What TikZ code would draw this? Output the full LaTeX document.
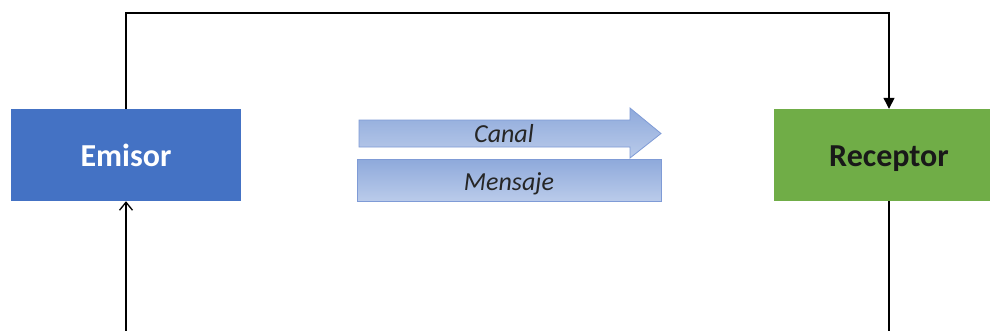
\documentclass[tikz,border=0pt]{standalone}
\usepackage{fontspec}
\setmainfont{Carlito}
\usetikzlibrary{arrows.meta}
\definecolor{emblue}{HTML}{4472C4}
\definecolor{recgreen}{HTML}{70AD47}
\definecolor{chtop}{HTML}{8EA9DB}
\definecolor{chbot}{HTML}{BACBEA}
\definecolor{chline}{HTML}{7F9BD6}
\tikzset{
  party/.style={draw=none, minimum width=230pt, minimum height=92pt, inner sep=0pt,
    text height=22pt, text depth=0pt,
    font=\fontsize{32}{36}\selectfont\bfseries},
  channel/.style={draw=chline, line width=0.8pt, top color=chtop, bottom color=chbot},
  flow/.style={line width=1.3pt, black},
  lbl/.style={font=\fontsize{26}{30}\selectfont\itshape, text=black!85, inner sep=0pt,
    text height=18pt, text depth=0pt}
}
\begin{document}
\begin{tikzpicture}[x=1pt,y=-1pt]
  \useasboundingbox (0,0) rectangle (990,330);
  \clip (0,0) rectangle (990,330);
  \fill[white] (0,0) rectangle (990,330);

  % the two parties
  \node[party, fill=emblue, text=white] (emisor) at (126,155) {Emisor};
  \node[party, fill=recgreen, text=black!90] (receptor) at (889,155) {Receptor};

  % feedback loop
  \coordinate (top) at (500,13);
  \coordinate (bot) at (500,345);
  \draw[flow, -{Triangle[length=11pt,width=11pt]}] (emisor.north) |- (top) -| (receptor.north);
  \draw[flow, -{Straight Barb[length=8pt,width=13pt]}] (receptor.south) |- (bot) -| (emisor.south);

  % channel arrow
  \coordinate (c1) at (359,120);
  \coordinate (c2) at (630,120);
  \coordinate (c3) at (630,108);
  \coordinate (c4) at (661,133.5);
  \coordinate (c5) at (630,158);
  \coordinate (c6) at (630,147);
  \coordinate (c7) at (359,147);
  \draw[channel] (c1) -- (c2) -- (c3) -- (c4) -- (c5) -- (c6) -- (c7) -- cycle;
  \node[lbl] (canal) at (504,133.5) {Canal};

  % message bar
  \draw[channel] (357,159) rectangle (661,201);
  \node[lbl] (mensaje) at (509,181) {Mensaje};
\end{tikzpicture}
\end{document}
